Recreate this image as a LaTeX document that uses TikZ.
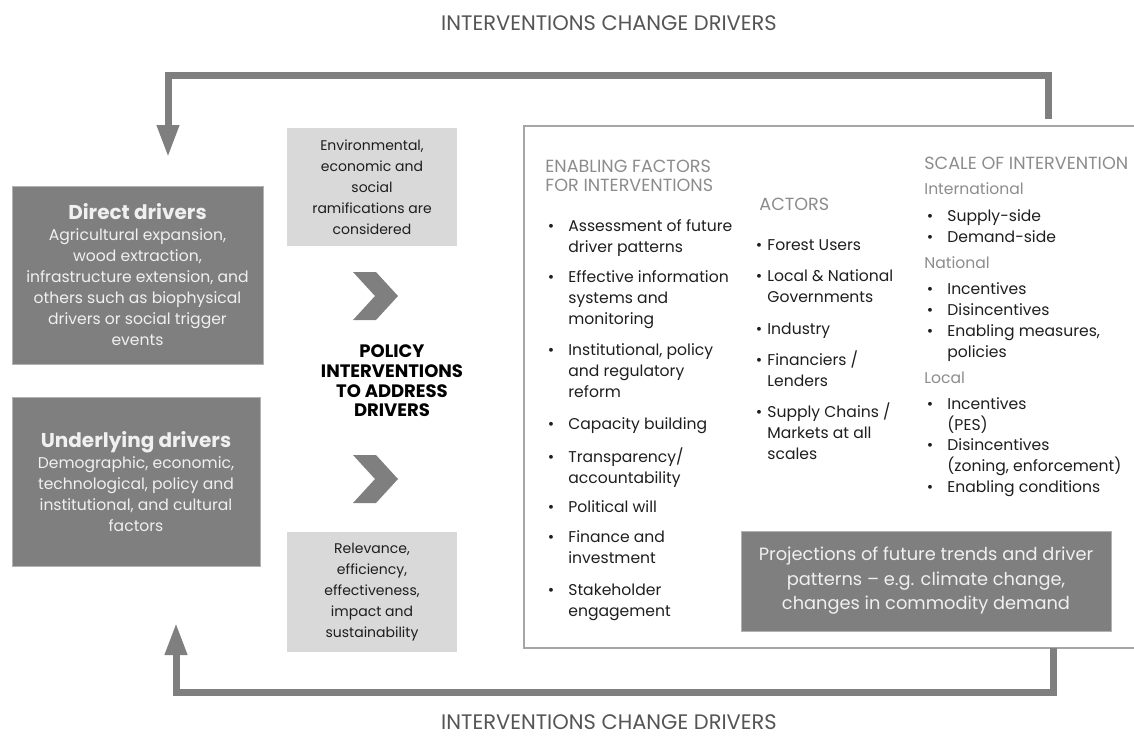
\documentclass[tikz,border=0pt]{standalone}
\usepackage{fontspec}
\setmainfont{Poppins}
\usetikzlibrary{arrows.meta, positioning}

\definecolor{boxgray}{HTML}{7F7F7F}
\definecolor{palegray}{HTML}{D9D9D9}
\definecolor{headgray}{HTML}{8C8C8C}
\definecolor{labelgray}{HTML}{555555}
\definecolor{framegray}{HTML}{A6A6A6}
\definecolor{inkgray}{HTML}{1E1E1E}

\newcommand{\txtlines}[1]{\begin{tabular}[t]{@{}l@{}}#1\end{tabular}}
\newcommand{\bodyfont}{\fontsize{7.8}{10.5}\selectfont}
\newcommand{\titlefont}{\bfseries\fontsize{10}{12.5}\selectfont}

\begin{document}
\begin{tikzpicture}[x=0.5pt, y=-0.5pt,
    darkbox/.style={fill=boxgray, draw=boxgray!60!white, line width=0.4pt, text=white!94!black, align=center, inner sep=0pt, font=\bodyfont},
    palebox/.style={fill=palegray, align=center, inner sep=0pt, text=inkgray, font=\fontsize{7}{10.5}\selectfont},
    heading/.style={anchor=base west, inner sep=0pt, text=headgray, font=\fontsize{8.8}{9.5}\selectfont},
    subhead/.style={anchor=base west, inner sep=0pt, text=headgray, font=\bodyfont},
    entry/.style={anchor=base west, inner sep=0pt, text=inkgray, font=\bodyfont},
    dot/.style={anchor=base, inner sep=0pt, text=inkgray, font=\bodyfont},
    feedback/.style={draw=boxgray, line width=3.5pt, -{Triangle[length=16pt, width=10.5pt]}},
    caption/.style={text=labelgray, font=\fontsize{10.5}{12}\selectfont},
    chevron/.style={fill=boxgray}
  ]

  \useasboundingbox (0,0) rectangle (1134,735);

  % Drivers
  \node[darkbox, minimum width=125.5pt, minimum height=89pt] (direct) at (137.5,275)
    {{\titlefont Direct drivers}\\Agricultural expansion,\\wood extraction,\\infrastructure extension, and\\others such as biophysical\\drivers or social trigger\\events};
  \node[darkbox, minimum width=124pt, minimum height=84.5pt] (underlying) at (136,481.5)
    {{\titlefont Underlying drivers}\\Demographic, economic,\\technological, policy and\\institutional, and cultural\\factors};

  % Middle column
  \node[palebox, minimum width=85pt, minimum height=59pt] (ramif) at (372,187)
    {Environmental,\\economic and\\social\\ramifications are\\considered};
  \node[palebox, minimum width=85pt, minimum height=60pt] (criteria) at (372,592)
    {Relevance,\\efficiency,\\effectiveness,\\impact and\\sustainability};
  \node[align=center, text=black, font=\bfseries\fontsize{9}{9.8}\selectfont] (policy) at (392,381)
    {POLICY\\INTERVENTIONS\\TO ADDRESS\\DRIVERS};
  \fill[chevron, shift={(375,296)}] (-22,-24) -- (1,-24) -- (23,0) -- (1,24) -- (-22,24) -- (0,0) -- cycle;
  \fill[chevron, shift={(375,479)}] (-22,-24) -- (1,-24) -- (23,0) -- (1,24) -- (-22,24) -- (0,0) -- cycle;

  % Frame
  \node[draw=framegray, line width=0.75pt, minimum width=308pt, minimum height=261pt, inner sep=0pt] (panel) at (832,387) {};

  % Enabling factors
  \node[heading] (enabling) at (545,172) {\txtlines{ENABLING FACTORS\\FOR INTERVENTIONS}};
  \foreach \y/\t [count=\i] in {226/{Assessment of future\\driver patterns}, 277/{Effective information\\systems and\\monitoring}, 350/{Institutional, policy\\and regulatory\\reform}, 424/{Capacity building}, 457/{Transparency/\\accountability}, 507/{Political will}, 537/{Finance and\\investment}, 590/{Stakeholder\\engagement}} {
    \node[dot] at (551,\y+5) {\textbullet};
    \node[entry] (factor\i) at (568,\y+5) {\txtlines{\t}};
  }

  % Actors
  \node[heading] (actors) at (759,210) {ACTORS};
  \foreach \y/\t [count=\i] in {245/{Forest Users}, 276/{Local \& National\\Governments}, 329/{Industry}, 360/{Financiers /\\Lenders}, 412/{Supply Chains /\\Markets at all\\scales}} {
    \node[dot] at (759,\y+5) {\textbullet};
    \node[entry] (actor\i) at (767,\y+5) {\txtlines{\t}};
  }

  % Scale of intervention
  \node[heading] (scale) at (924,169) {SCALE OF INTERVENTION};
  \node[subhead] (intl) at (924,194) {International};
  \node[subhead] (natl) at (924,268) {National};
  \node[subhead] (locl) at (924,383) {Local};
  \foreach \y/\t [count=\i] in {216/{Supply-side}, 237/{Demand-side}, 289/{Incentives}, 310/{Disincentives}, 331/{Enabling measures,\\policies}, 404/{Incentives\\(PES)}, 445/{Disincentives\\(zoning, enforcement)}, 487/{Enabling conditions}} {
    \node[dot] at (930,\y+5) {\textbullet};
    \node[entry] (level\i) at (947,\y+5) {\txtlines{\t}};
  }

  \node[darkbox, minimum width=185pt, minimum height=50pt, font=\fontsize{8.9}{12.25}\selectfont] (trends) at (926,581)
    {Projections of future trends and driver\\patterns -- e.g. climate change,\\changes in commodity demand};

  % Feedback loops
  \node[caption] (topcap) at (609,23) {INTERVENTIONS CHANGE DRIVERS};
  \node[caption] (botcap) at (609,722) {INTERVENTIONS CHANGE DRIVERS};
  \coordinate (top-out) at (1048,119);
  \coordinate (top-in) at (168,157);
  \coordinate (bot-out) at (1053,648);
  \coordinate (bot-in) at (176,623);
  \draw[feedback] (top-out) -- ++(0,-44) -| (top-in);
  \draw[feedback] (bot-out) -- ++(0,44) -| (bot-in);

\end{tikzpicture}
\end{document}
